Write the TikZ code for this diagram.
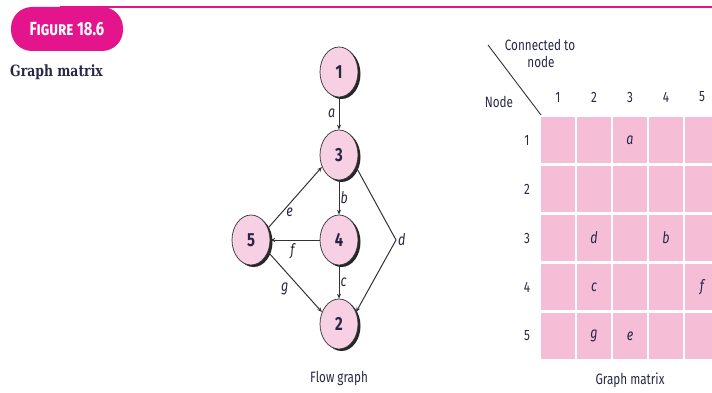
\documentclass[tikz,border=0pt]{standalone}
\usepackage{fontspec}
\setmainfont{Fira Sans}[FakeStretch=0.78]
\newfontfamily\headfont{DejaVu Serif}[FakeStretch=0.8]
\usetikzlibrary{shapes.geometric,arrows.meta,shadows}

\definecolor{figmagenta}{RGB}{228,20,140}
\definecolor{nodepink}{RGB}{248,208,228}
\definecolor{cellpink}{RGB}{245,190,214}
\definecolor{inkblue}{RGB}{40,40,70}

\tikzset{
  vertex/.style={ellipse, draw=black!80, line width=0.7pt, fill=nodepink,
    minimum width=38pt, minimum height=50pt, inner sep=0pt,
    font=\fontsize{19}{20}\selectfont\bfseries, text=inkblue,
    drop shadow={shadow xshift=2.5pt, shadow yshift=-2pt, fill=black!85, opacity=1}},
  edge/.style={-{Stealth[length=5pt,width=4pt]}, line width=1pt, draw=black!80},
  elabel/.style={font=\fontsize{16}{17}\selectfont\itshape, text=inkblue},
  mtext/.style={font=\fontsize{15}{16}\selectfont, text=inkblue}
}

\begin{document}
\begin{tikzpicture}[x=1pt, y=-1pt]
  \useasboundingbox (0,0) rectangle (712,393);

  % Heading
  \draw[figmagenta, line width=2.5pt] (60,7) -- (712,7);
  \node[fill=figmagenta, rounded corners=21pt, minimum width=112pt, minimum height=44pt,
        text=white, font=\fontsize{19}{20}\selectfont\bfseries] (fig) at (67,29) {\textsc{Figure} 18.6};
  \node[anchor=west, font=\headfont\bfseries\fontsize{15.5}{16}\selectfont, text=inkblue, inner sep=0pt]
    (title) at (10,72) {Graph matrix};

  % Flow graph
  \node[vertex] (n1) at (339,72) {1};
  \node[vertex] (n3) at (339,155) {3};
  \node[vertex] (n4) at (339,240) {4};
  \node[vertex] (n5) at (251,240) {5};
  \node[vertex] (n2) at (339,324) {2};
  \coordinate (dpt) at (396,240);

  \draw[edge] (n1) -- node[elabel, left] {a} (n3);
  \draw[edge] (n3) -- node[elabel, right, inner sep=1pt] {b} (n4);
  \draw[edge] (n4) -- node[elabel, right, inner sep=1pt] {c} (n2);
  \draw[edge] (n3.-35) -- (dpt) -- (n2.35);
  \node[elabel, right, inner sep=2pt] (dlab) at (dpt) {d};
  \draw[edge] (n5.35) -- node[elabel, below, pos=0.4] {e} (n3.215);
  \draw[edge] (n4) -- node[elabel, below, pos=0.55] {f} (n5);
  \draw[edge] (n5.-35) -- node[elabel, below left, pos=0.45] {g} (n2.145);

  \node[mtext] (flowcap) at (339,378) {Flow graph};

  % Graph matrix
  \draw[line width=0.9pt, black!80] (488,45) -- (541,115);
  \node[mtext, inner sep=0pt] (conn) at (540,45) {Connected to};
  \node[mtext, inner sep=0pt] (connb) at (541,62) {node};
  \node[mtext] (nodehead) at (499,102) {Node};
  \foreach \i in {1,...,5} {
    \node[mtext] (col\i) at (558+36*\i-36,97) {\i};
    \node[mtext] (row\i) at (527,140+49*\i-49) {\i};
    \foreach \j in {1,...,5} {
      \fill[cellpink] (541+36*\j-36,117+49*\i-49) rectangle ++(34,46);
    }
  }
  \foreach \r/\c/\t in {1/3/a, 3/2/d, 3/4/b, 4/2/c, 4/5/f, 5/2/g, 5/3/e}
    \node[elabel] (m\r\c) at (558+36*\c-36,140+49*\r-49) {\t};

  \node[mtext] (matcap) at (630,380) {Graph matrix};
\end{tikzpicture}
\end{document}
